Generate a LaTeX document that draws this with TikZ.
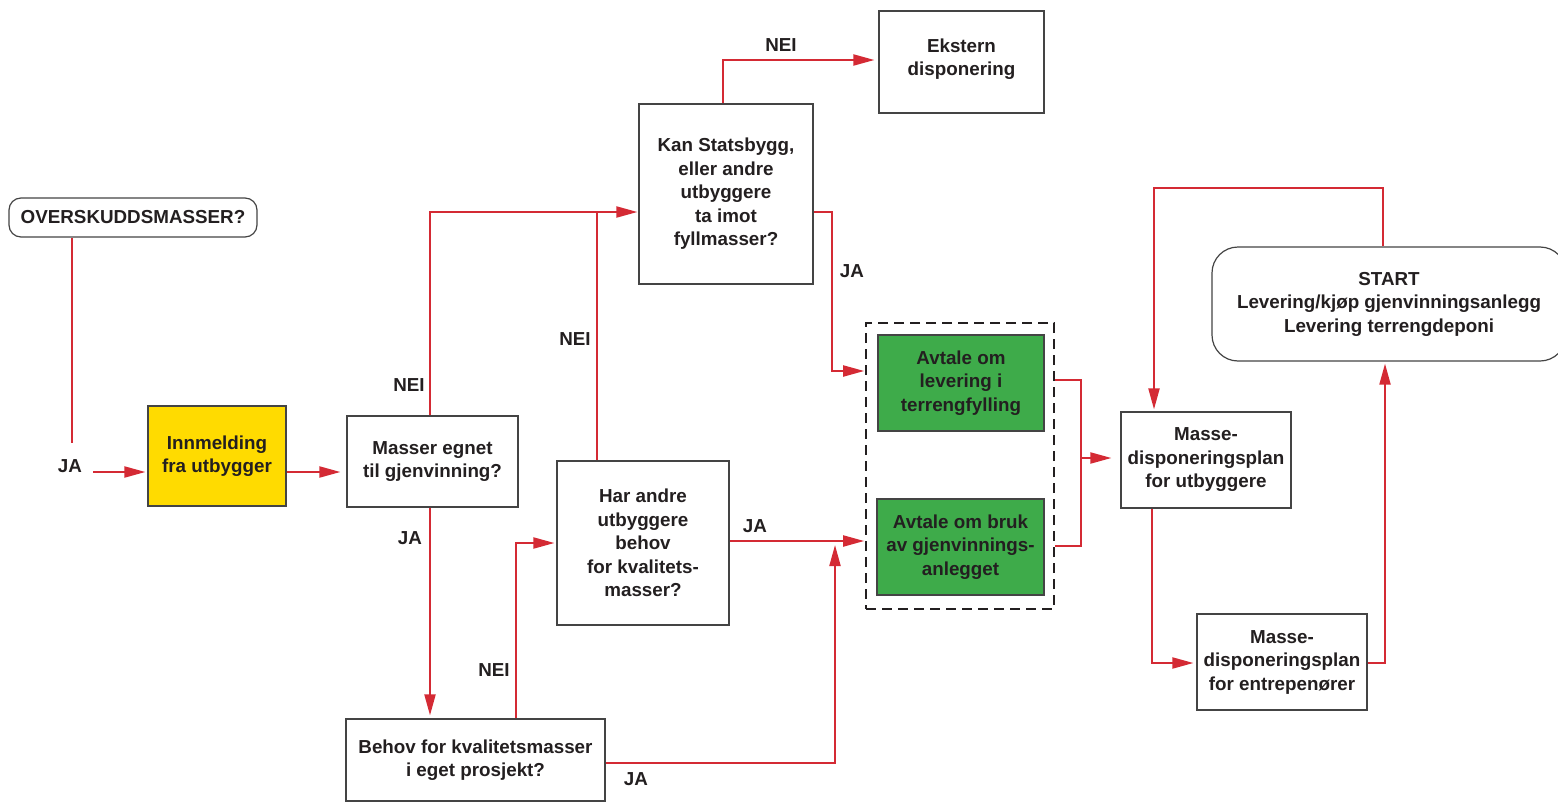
\documentclass[tikz,border=0pt]{standalone}
\usepackage{fontspec}
\setmainfont{Liberation Sans}
\usetikzlibrary{arrows.meta}
\definecolor{lred}{HTML}{D42A34}
\definecolor{lyellow}{HTML}{FFDB00}
\definecolor{lgreen}{HTML}{3EAB4A}
\definecolor{lborder}{HTML}{444444}
\definecolor{ltext}{HTML}{231F20}
\tikzset{
  box/.style={draw=lborder, line width=1.2pt, fill=white, inner sep=0pt, align=center, text=ltext,
    font=\fontsize{18.8}{23.5}\selectfont\bfseries},
  lbl/.style={inner sep=0pt, text=ltext, font=\fontsize{18.8}{22}\selectfont\bfseries},
  con/.style={draw=lred, line width=2pt},
  arr/.style={con, -{Triangle[length=21pt,width=11pt]}},
}
\begin{document}
\begin{tikzpicture}[x=1pt,y=-1pt]
\useasboundingbox (0,0) rectangle (1558,803);
\clip (0,0) rectangle (1558,803);
% nodes
\node[box, rounded corners=12pt, minimum width=248pt, minimum height=39pt] (over) at (133,217.5) {OVERSKUDDSMASSER?};
\node[box, fill=lyellow, minimum width=138pt, minimum height=100pt] (innm) at (217,456) {Innmelding\\fra utbygger};
\node[box, minimum width=171pt, minimum height=91pt] (mass) at (432.5,461.5) {Masser egnet\\til gjenvinning?};
\node[box, minimum width=174pt, minimum height=180pt] (kan) at (726,194) {Kan Statsbygg,\\eller andre\\utbyggere\\ta imot\\fyllmasser?};
\node[box, minimum width=165pt, minimum height=102pt] (ekst) at (961.5,62) {Ekstern\\disponering\\[-13.5pt]};
\node[box, minimum width=172pt, minimum height=164pt] (har) at (643,543) {Har andre\\utbyggere\\behov\\for kvalitets-\\masser?};
\node[box, minimum width=259pt, minimum height=82pt] (beh) at (475.5,760) {Behov for kvalitetsmasser\\i eget prosjekt?};
\node[draw=ltext, line width=1.6pt, dash pattern=on 10pt off 6pt, minimum width=188pt, minimum height=286pt, inner sep=0pt] (dash) at (960,466) {};
\node[box, fill=lgreen, minimum width=166pt, minimum height=96pt] (g1) at (961,383) {Avtale om\\levering i\\terrengfylling};
\node[box, fill=lgreen, minimum width=167pt, minimum height=96pt] (g2) at (960.5,547) {Avtale om bruk\\av gjenvinnings-\\anlegget};
\node[box, minimum width=170pt, minimum height=96pt] (mdu) at (1206,460) {Masse-\\disponeringsplan\\for utbyggere};
\node[box, minimum width=170pt, minimum height=96pt] (mde) at (1282,662) {Masse-\\disponeringsplan\\for entrepenører};
\node[box, rounded corners=26pt, minimum width=354pt, minimum height=114pt] (start) at (1389,304) {START\\Levering/kjøp gjenvinningsanlegg\\Levering terrengdeponi};
% labels
\node[lbl] (ja1) at (70,466) {JA};
\node[lbl] (nei1) at (409,385) {NEI};
\node[lbl] (nei2) at (781,45) {NEI};
\node[lbl] (ja2) at (852,271) {JA};
\node[lbl] (nei3) at (575,339) {NEI};
\node[lbl] (ja3) at (755,526) {JA};
\node[lbl] (ja4) at (410,538) {JA};
\node[lbl] (nei4) at (494,670) {NEI};
\node[lbl] (ja5) at (636,779) {JA};
% helper coordinates
\coordinate (jaend) at (72,443);
\coordinate (a1) at (93,472);
\coordinate (xm) at (430,0);
\coordinate (yk) at (0,212);
\coordinate (xk) at (723,0);
\coordinate (ye) at (0,60);
\coordinate (jk) at (832,371);
\coordinate (xh) at (597,0);
\coordinate (yh) at (0,541);
\coordinate (xb) at (516,0);
\coordinate (yhw) at (0,543);
\coordinate (yb) at (0,763);
\coordinate (jb) at (835,545);
\coordinate (r1) at (1081,380);
\coordinate (r2) at (1081,546);
\coordinate (rm) at (1081,458);
\coordinate (xs) at (1383,0);
\coordinate (top) at (1154,188);
\coordinate (xu) at (1152,0);
\coordinate (yde) at (0,663);
\coordinate (xr) at (1385,0);
% connectors
\draw[con] (jaend |- over.south) -- (jaend);
\draw[arr, shorten >=2pt] (a1) -- (a1 -| innm.west);
\draw[arr, shorten >=6pt] (a1 -| innm.east) -- (a1 -| mass.west);
\draw[arr, shorten >=1pt] (xm |- mass.north) |- (kan.west |- yk);
\draw[arr, shorten >=4pt] (xk |- kan.north) |- (ekst.west |- ye);
\draw[arr, shorten >=1pt] (kan.east |- yk) -| (jk) -- (jk -| dash.west);
\draw[con] (xh |- har.north) -- (xh |- yk);
\draw[arr, shorten >=1pt] (har.east |- yh) -- (dash.west |- yh);
\draw[arr, shorten >=3pt] (xm |- mass.south) -- (xm |- beh.north);
\draw[arr, shorten >=2pt] (xb |- beh.north) |- (har.west |- yhw);
\draw[con, -{Triangle[length=21pt,width=11pt]}] (beh.east |- yb) -| (jb);
\draw[con] (r1 -| dash.east) -- (r1) -- (r2) -- (r2 -| dash.east);
\draw[arr, shorten >=9pt] (rm) -- (rm -| mdu.west);
\draw[arr, shorten >=2pt] (xs |- start.north) |- (top) -- (top |- mdu.north);
\draw[arr, shorten >=3pt] (xu |- mdu.south) |- (mde.west |- yde);
\draw[arr, shorten >=2pt] (mde.east |- yde) -| (xr |- start.south);
\end{tikzpicture}
\end{document}
